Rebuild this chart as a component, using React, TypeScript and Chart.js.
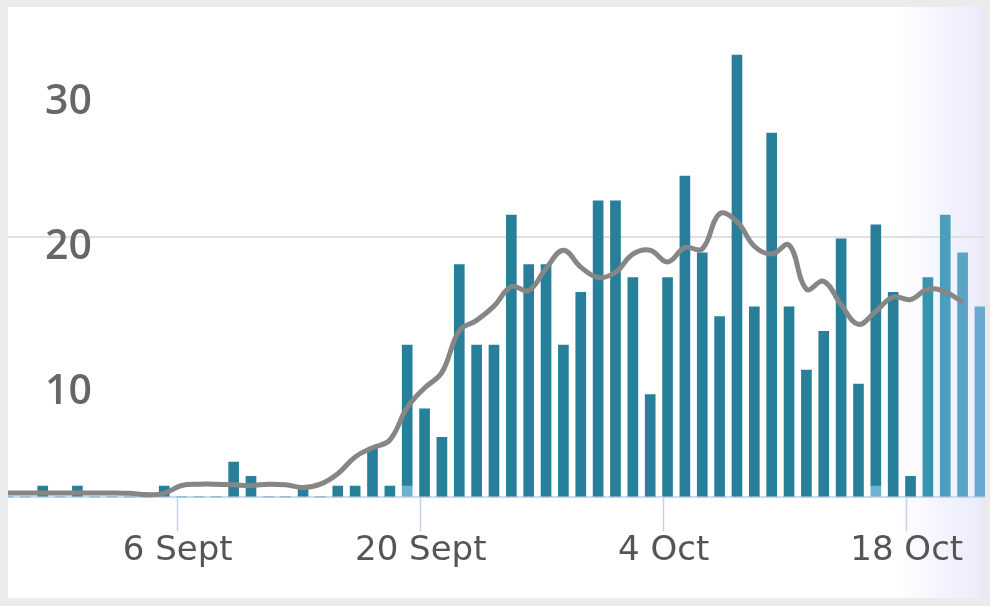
import React, { useEffect, useRef } from 'react';
import { Chart, registerables } from 'chart.js';

Chart.register(...registerables);

// ---- data ----
const days = [
  '27 Aug', '28 Aug', '29 Aug', '30 Aug', '31 Aug',
  '1 Sept', '2 Sept', '3 Sept', '4 Sept', '5 Sept', '6 Sept', '7 Sept', '8 Sept', '9 Sept', '10 Sept',
  '11 Sept', '12 Sept', '13 Sept', '14 Sept', '15 Sept', '16 Sept', '17 Sept', '18 Sept', '19 Sept', '20 Sept',
  '21 Sept', '22 Sept', '23 Sept', '24 Sept', '25 Sept', '26 Sept', '27 Sept', '28 Sept', '29 Sept', '30 Sept',
  '1 Oct', '2 Oct', '3 Oct', '4 Oct', '5 Oct', '6 Oct', '7 Oct', '8 Oct', '9 Oct', '10 Oct',
  '11 Oct', '12 Oct', '13 Oct', '14 Oct', '15 Oct', '16 Oct', '17 Oct', '18 Oct', '19 Oct', '20 Oct',
  '21 Oct', '22 Oct',
];

// total daily cases (bar height)
const dailyCases = [
  0, 0, 0.85, 0, 0.85,
  0, 0, 0, 0, 0.85, 0, 0, 0, 2.7, 1.6,
  0, 0, 0.85, 0, 0.85, 0.85, 3.75, 0.85, 11.7, 6.8,
  4.6, 17.9, 11.7, 11.7, 21.7, 17.9, 17.9, 11.7, 15.75, 22.8,
  22.8, 16.9, 7.9, 16.9, 24.7, 18.8, 13.9, 34.0, 14.65, 28.0,
  14.65, 9.77, 12.75, 19.87, 8.7, 20.95, 15.75, 1.6, 16.9, 21.7,
  18.8, 14.65,
];

// lighter bottom part of some bars
const lateReported = [
  0, 0, 0, 0, 0,
  0, 0, 0, 0, 0, 0, 0, 0, 0, 0,
  0, 0, 0, 0, 0, 0, 0, 0, 0.85, 0,
  0, 0, 0, 0, 0, 0, 0, 0, 0, 0,
  0, 0, 0, 0, 0, 0, 0, 0, 0, 0,
  0, 0, 0, 0, 0, 0.85, 0, 0, 0, 0,
  0, 0,
];

// 7-day rolling average (ends 21 Oct)
const sevenDayAvg = [
  0.33, 0.33, 0.33, 0.33, 0.33,
  0.33, 0.33, 0.3, 0.2, 0.3, 0.9, 1.0, 1.0, 0.95, 0.9,
  1.0, 0.95, 0.75, 1.0, 1.8, 3.1, 3.8, 4.4, 6.9, 8.4,
  9.6, 12.8, 13.6, 14.7, 16.2, 15.9, 17.6, 19.0, 17.7, 16.9,
  17.3, 18.7, 19.0, 18.1, 19.2, 19.1, 21.8, 21.2, 19.3, 18.7,
  19.4, 16.0, 16.6, 14.8, 13.3, 14.3, 15.4, 15.2, 16.0, 15.8,
  15.0,
];

const xTickLabels = ['6 Sept', '20 Sept', '4 Oct', '18 Oct'];
const yTickLabels = [10, 20, 30];

// ---- styles ----
const BAR_COLOR = '#277f99';
const LATE_COLOR = '#6ab3d2';
const FADE_COLORS = ['#3992ae', '#4b9dbc', '#5aa4c6', '#6aa9cf'];
const LINE_COLOR = '#868686';
const TICK_SHIFT = 0.22;

export default function App() {
  const canvasRef = useRef<HTMLCanvasElement | null>(null);

  useEffect(() => {
    const canvas = canvasRef.current;
    if (!canvas) return;

    const n = days.length;
    const fadeStart = n - FADE_COLORS.length;
    const mainColors = days.map((_, i) => (i >= fadeStart ? FADE_COLORS[i - fadeStart] : BAR_COLOR));
    const tickPositions = xTickLabels.map((l) => days.indexOf(l) - TICK_SHIFT);

    const chart = new Chart(canvas, {
      type: 'bar',
      data: {
        datasets: [
          {
            type: 'line',
            label: '7-day average',
            data: sevenDayAvg.map((v, i) => ({ x: i, y: v })),
            borderColor: LINE_COLOR,
            borderWidth: 5,
            pointRadius: 0,
            tension: 0.4,
            fill: false,
            order: 0,
            stack: 'avg',
          } as any,
          {
            type: 'bar',
            label: 'Late',
            data: lateReported.map((v, i) => ({ x: i, y: v })),
            backgroundColor: LATE_COLOR,
            barThickness: 10,
            order: 1,
            stack: 'cases',
          },
          {
            type: 'bar',
            label: 'Cases',
            data: dailyCases.map((v, i) => ({ x: i, y: v - lateReported[i] })),
            backgroundColor: mainColors,
            barThickness: 10,
            order: 1,
            stack: 'cases',
          },
        ],
      },
      options: {
        animation: false,
        responsive: false,
        maintainAspectRatio: false,
        layout: { padding: { top: 40, bottom: 26, left: 0, right: 0 } },
        plugins: { legend: { display: false }, tooltip: { enabled: false } },
        scales: {
          x: {
            type: 'linear',
            min: 0,
            max: 56.29,
            stacked: true,
            offset: false,
            grid: {
              offset: false,
              drawOnChartArea: false,
              drawTicks: true,
              tickLength: 34,
              tickColor: '#c6d0e8',
              tickWidth: 1.5,
              color: '#c6d0e8',
            },
            border: { display: true, color: '#cfd8ee', width: 2 },
            afterBuildTicks: (scale: any) => {
              scale.ticks = tickPositions.map((v) => ({ value: v }));
            },
            ticks: {
              autoSkip: false,
              maxRotation: 0,
              padding: 0,
              color: '#555555',
              font: { family: '"DejaVu Sans", sans-serif', size: 34 },
              callback: (_v: any, i: number) => xTickLabels[i],
            },
          },
          y: {
            type: 'linear',
            stacked: true,
            position: 'left',
            min: 0,
            max: 34.63,
            ticks: { display: false, stepSize: 10 },
            grid: {
              drawTicks: false,
              lineWidth: 2,
              color: (ctx: any) => (ctx.tick && ctx.tick.value === 20 ? '#e0e0e0' : 'rgba(0,0,0,0)'),
            },
            border: { display: false },
            afterFit: (scale: any) => {
              scale.width = 0;
            },
          },
          yl: {
            type: 'linear',
            position: 'left',
            min: 2.78,
            max: 33.8,
            grid: { display: false, drawTicks: false },
            border: { display: false },
            afterBuildTicks: (scale: any) => {
              scale.ticks = yTickLabels.map((v) => ({ value: v }));
            },
            afterFit: (scale: any) => {
              scale.width = 0;
            },
            ticks: {
              mirror: true,
              padding: 37,
              color: '#666666',
              font: { family: '"Open Sans", sans-serif', size: 41, weight: '600', lineHeight: 0.01 },
            },
          },
        },
      } as any,
    });

    return () => chart.destroy();
  }, []);

  return (
    <div style={{ position: 'fixed', left: 0, top: 0, width: 990, height: 606, background: '#ebebeb', overflow: 'hidden' }}>
      <div
        style={{
          position: 'absolute',
          left: 8,
          top: 7,
          width: 977,
          height: 591,
          background:
            'linear-gradient(to right, #ffffff 0%, #ffffff 91%, #f5f5fe 95%, #ededfc 99%, #e8e8f4 100%)',
        }}
      >
        <canvas ref={canvasRef} width={977} height={591} style={{ display: 'block', width: 977, height: 591 }} />
      </div>
    </div>
  );
}
